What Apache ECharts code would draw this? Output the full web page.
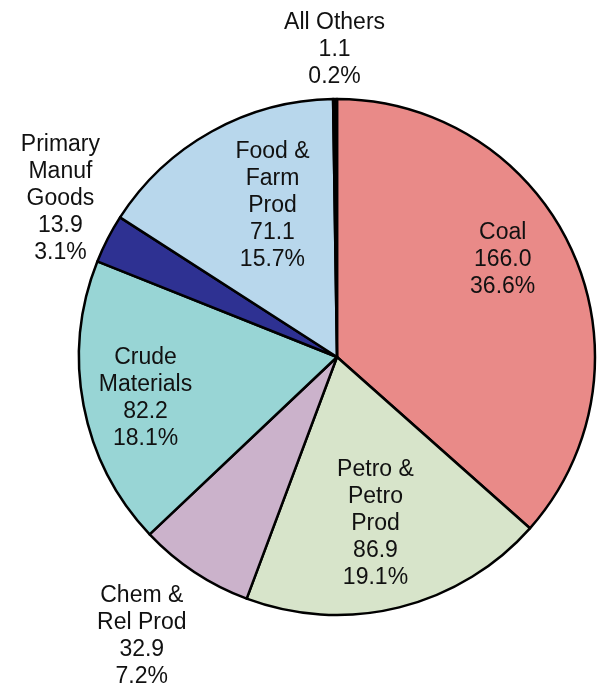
<!DOCTYPE html>
<html>
<head>
<meta charset="utf-8">
<script src="https://cdn.jsdelivr.net/npm/echarts@6/dist/echarts.min.js"></script>
<style>
  html, body { margin: 0; padding: 0; background: #fff; }
  #chart { width: 597px; height: 687px; }
</style>
</head>
<body>
<div id="chart"></div>
<script>
// slices, clockwise from 12 o'clock
var names = ['Coal', 'Petro &\nPetro\nProd', 'Chem &\nRel Prod', 'Crude\nMaterials', 'Primary\nManuf\nGoods', 'Food &\nFarm\nProd', 'All Others'];
var values = [166.0, 86.9, 32.9, 82.2, 13.9, 71.1, 1.1];
var pctLabels = ['36.6%', '19.1%', '7.2%', '18.1%', '3.1%', '15.7%', '0.2%'];
var colors = ['#E98A88', '#D7E4CA', '#CBB2CB', '#98D5D5', '#2E3192', '#B8D7EC', '#000000'];
// which ring each label sits on: 'far' = outside the pie, 'mid'/'near' = inside
var labelRing = ['mid', 'near', 'far', 'mid', 'far', 'near', 'far'];
// small nudges of each label block (px)
var labelNudge = [[-14, -17], [-3, 0], [-19, 13], [2, 4], [7, -12], [19, -1], [0, 12]];

var cx = 337, cy = 357, R = 258;

var chart = echarts.init(document.getElementById('chart'));

var labelStyle = {
    show: true,
    position: 'inside',
    rotate: 0,
    color: '#111',
    fontFamily: 'Liberation Sans, Arial, sans-serif',
    fontSize: 23,
    lineHeight: 27,
    align: 'center',
    formatter: function (p) {
        return names[p.dataIndex] + '\n' + values[p.dataIndex].toFixed(1) + '\n' + pctLabels[p.dataIndex];
    }
};

function ringSeries(ring, inner, outer) {
    return {
        type: 'pie',
        center: [cx, cy],
        radius: [inner, outer],
        startAngle: 90,
        silent: true,
        animation: false,
        minShowLabelAngle: 0,
        itemStyle: { color: 'rgba(0,0,0,0)', borderWidth: 0 },
        label: labelStyle,
        labelLine: { show: false },
        labelLayout: function (p) {
            var n = labelNudge[p.dataIndex];
            return { dx: n[0], dy: n[1] };
        },
        emphasis: { disabled: true },
        data: values.map(function (v, i) {
            return { value: v, name: names[i], label: { show: labelRing[i] === ring } };
        })
    };
}

chart.setOption({
    backgroundColor: '#ffffff',
    series: [
        {
            type: 'pie',
            center: [cx, cy],
            radius: R,
            startAngle: 90,
            animation: false,
            silent: true,
            label: { show: false },
            labelLine: { show: false },
            itemStyle: { borderColor: '#000', borderWidth: 2.5 },
            data: values.map(function (v, i) {
                return { value: v, name: names[i], itemStyle: { color: colors[i] } };
            })
        },
        ringSeries('mid', 130, 258),
        ringSeries('near', 80, 258),
        ringSeries('far', 258, 374)
    ]
});
</script>
</body>
</html>
